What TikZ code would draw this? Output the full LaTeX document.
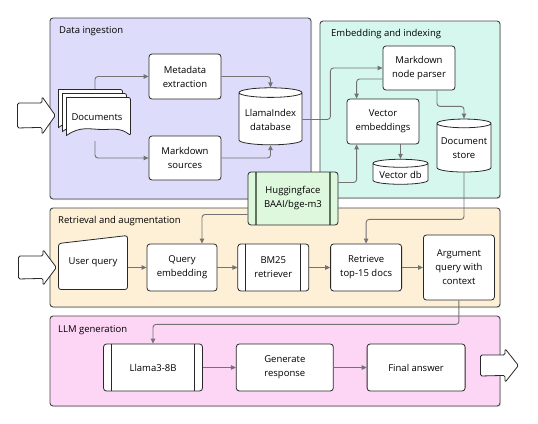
\documentclass[tikz,border=0pt]{standalone}
\usepackage{fontspec}
\setmainfont{Open Sans}
\usetikzlibrary{positioning,shapes.geometric,arrows.meta,shadows}

\definecolor{ingestbg}{RGB}{221,221,251}
\definecolor{embedbg}{RGB}{213,247,238}
\definecolor{retrbg}{RGB}{253,240,215}
\definecolor{llmbg}{RGB}{253,213,245}
\definecolor{hfbg}{RGB}{222,248,222}
\definecolor{hfline}{RGB}{95,115,95}
\definecolor{panelline}{RGB}{70,70,70}
\definecolor{boxline}{RGB}{40,40,40}
\definecolor{linegray}{RGB}{115,115,115}

\tikzset{
  subroutine/.style={process, path picture={
      \draw [draw=#1, line width=1.2pt]
        ([xshift=8pt]path picture bounding box.north west) -- ([xshift=8pt]path picture bounding box.south west)
        ([xshift=-8pt]path picture bounding box.north east) -- ([xshift=-8pt]path picture bounding box.south east);}},
  subroutine/.default=boxline
}

\begin{document}
\begin{tikzpicture}[x=1pt, y=-1pt, font=\fontsize{9.5}{14}\selectfont]
    \tikzstyle{panel} = [draw=panelline, line width=0.9pt, rounded corners=3pt, drop shadow={shadow xshift=1pt, shadow yshift=-1pt, opacity=0.25}]
    \tikzstyle{title} = [anchor=base west, inner sep=0pt]
    \tikzstyle{process} = [rectangle, rounded corners=3pt, draw=boxline, line width=0.8pt, fill=white, align=center, inner sep=2pt]
    \tikzstyle{database} = [cylinder, shape border rotate=90, aspect=0.18, draw=boxline, line width=0.8pt, fill=white, align=center, inner sep=1pt]
    \tikzstyle{bigarrow} = [minimum width=39pt, inner sep=0pt, path picture={
        \draw [draw=boxline, line width=0.8pt, fill=white, rounded corners=1.5pt]
          ([shift={(0.5,7)}]path picture bounding box.north west) -- ++(24.5,0) -- ([shift={(25,0.6)}]path picture bounding box.north west)
          -- ([shift={(-0.6,0)}]path picture bounding box.east)
          -- ([shift={(25,-0.6)}]path picture bounding box.south west) -- ++(0,-7) -- ([shift={(0.5,-7)}]path picture bounding box.south west) -- cycle;
      }]
    \tikzstyle{arrow} = [line width=0.9pt, draw=linegray, rounded corners=3pt, -{Triangle[length=5pt, width=4.5pt]}]

    \useasboundingbox (0,0) rectangle (538,423);

    \draw [panel, fill=ingestbg] (50,18) rectangle (311,199);
    \draw [panel, fill=embedbg] (320,21) rectangle (500,198);
    \draw [panel, fill=retrbg] (50,208) rectangle (500,307);
    \draw [panel, fill=llmbg] (50,316) rectangle (500,406);

    \node (ingesttitle) [title] at (59,33) {Data ingestion};
    \node (embedtitle) [title] at (331,36) {Embedding and indexing};
    \node (retrtitle) [title] at (58,223) {Retrieval and augmentation};
    \node (llmtitle) [title] at (58,332) {LLM generation};

    \node (in1) [bigarrow, minimum height=39pt] at (36.5,115.5) {};
    \node (docs) [minimum width=74pt, minimum height=57pt, inner sep=0pt, path picture={
        \foreach \d in {0,4,8}
          \draw [draw=boxline, line width=0.8pt, fill=white, rounded corners=2pt]
            ([shift={(\d+0.5,\d+0.5)}]path picture bounding box.north west) -- ++(64,0) -- ++(0,38)
            [sharp corners] .. controls ++(-10,-8) and ++(10,0) .. ++(-28,-6)
            .. controls ++(-12,0) and ++(14,-10) .. ++(-36,6) -- cycle;
      }] at (95,117.5) {\hspace*{4pt}Documents};
    \node (meta) [process, minimum width=72pt, minimum height=45pt] at (185,76.5) {Metadata\\extraction};
    \node (mdsrc) [process, minimum width=72pt, minimum height=44pt] at (185,158) {Markdown\\sources};
    \node (llamadb) [database, minimum width=63pt, minimum height=57pt] at (270.5,119.5) {LlamaIndex\\database};

    \node (mdparser) [process, minimum width=72pt, minimum height=44pt] at (419,68) {Markdown\\node parser};
    \node (vecemb) [process, minimum width=72pt, minimum height=45pt] at (383,121.5) {Vector\\embeddings};
    \node (vecdb) [database, minimum width=55pt, minimum height=25pt] at (400.5,174.5) {Vector db};
    \node (docstore) [database, minimum width=54pt, minimum height=53pt] at (464,148.5) {Document\\store};

    \node (hf) [subroutine=hfline, fill=hfbg, minimum width=90pt, minimum height=53pt] at (293,198.5) {Huggingface\\BAAI/bge-m3};

    \node (in2) [bigarrow, minimum height=37pt] at (37.5,267.5) {};
    \node (userq) [minimum width=70pt, minimum height=55pt, inner sep=0pt, path picture={
        \draw [draw=boxline, line width=0.8pt, fill=white, rounded corners=2.5pt]
          ([shift={(0.5,-0.5)}]path picture bounding box.south west) -- ([shift={(0.5,8.5)}]path picture bounding box.north west)
          -- ([shift={(-0.5,0.5)}]path picture bounding box.north east) -- ([shift={(-0.5,-0.5)}]path picture bounding box.south east) -- cycle;
      }] at (93,262.5) {\raisebox{-3pt}{User query}};
    \node (qemb) [process, minimum width=70pt, minimum height=47pt] at (182,267.5) {Query\\embedding};
    \node (bm25) [subroutine, minimum width=71pt, minimum height=47pt, right=20pt of qemb] {BM25\\retriever};
    \node (retr) [process, minimum width=71pt, minimum height=47pt, right=21pt of bm25] {Retrieve\\top-15 docs};
    \node (argq) [process, minimum width=71pt, minimum height=65pt, right=21pt of retr] {Argument\\query with\\context};

    \node (llama) [subroutine, minimum width=99pt, minimum height=47pt] at (153,367.5) {Llama3-8B};
    \node (genresp) [process, minimum width=97pt, minimum height=47pt, right=33pt of llama] {Generate\\response};
    \node (final) [process, minimum width=98pt, minimum height=47pt, right=33pt of genresp] {Final answer};
    \node (out) [bigarrow, minimum height=35pt] at (499.5,365.5) {};

    \draw [arrow] (docs.north) |- (meta.west);
    \draw [arrow] ([yshift=5pt]docs.south) |- (mdsrc.west);
    \draw [arrow] (meta.east) -| (llamadb.north);
    \draw [arrow] (mdsrc.east) -| (llamadb.south);
    \draw [arrow] (llamadb.east) -- ++(28,0) |- (mdparser.west);
    \draw [arrow] ([yshift=-11pt]mdparser.west) -| ([xshift=10pt]vecemb.north west);
    \draw [arrow] ([xshift=18pt]mdparser.south) -- ++(0,16) -| (docstore.north);
    \draw [arrow] (vecdb.north |- vecemb.south) -- (vecdb.north);
    \draw [arrow] ([yshift=16pt]hf.east) -| ([xshift=10pt]vecemb.south west);
    \draw [arrow] (docstore.south) -- ++(0,47) -| (retr.north);
    \draw [arrow] ([yshift=-16pt]hf.west) -| ([xshift=20pt]qemb.north);
    \draw [arrow] (qemb.west -| userq.east) -- (qemb.west);
    \draw [arrow] (qemb) -- (bm25);
    \draw [arrow] (bm25) -- (retr);
    \draw [arrow] (retr) -- (argq);
    \draw [arrow] (argq.south) -- ++(0,24) -| (llama.north);
    \draw [arrow] (llama) -- (genresp);
    \draw [arrow] (genresp) -- (final);
\end{tikzpicture}
\end{document}
